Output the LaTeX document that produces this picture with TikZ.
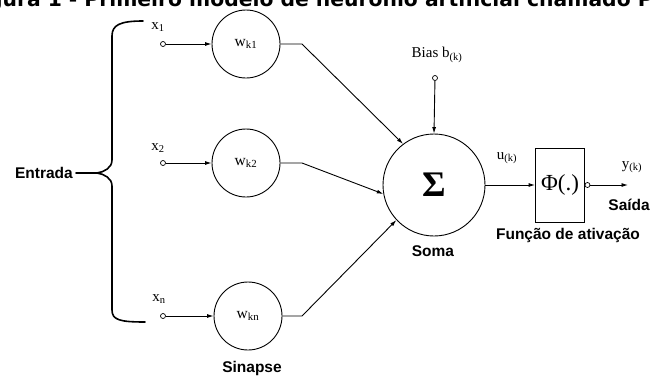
\documentclass[tikz,border=0pt]{standalone}
\usepackage{fontspec}
\setmainfont{Liberation Serif}
\newfontfamily\labelsans{Liberation Sans}
\newfontfamily\titlesans{DejaVu Sans}
\usetikzlibrary{arrows.meta}
\begin{document}
\begin{tikzpicture}[x=1pt,y=-1pt,
  lbl/.style={font=\labelsans\bfseries\fontsize{15.5}{18}\selectfont, inner sep=0pt},
  sym/.style={font=\fontsize{15}{17}\selectfont, inner sep=0pt},
  weight/.style={circle, draw, line width=0.9pt, minimum size=68pt, inner sep=0pt,
                 font=\fontsize{15.5}{17}\selectfont},
  port/.style={circle, draw, line width=0.7pt, minimum size=5pt, inner sep=0pt, fill=white},
  wire/.style={line width=0.9pt},
  arr/.style={wire, -{Latex[length=6.5pt,width=4pt]}},
  brace/.style={line width=1.6pt, line cap=round},
]
\useasboundingbox (0,0) rectangle (651,376);

% caption strip, cut by the page edge
\begin{scope}
  \clip (0,0) rectangle (651,376);
  \node[anchor=base west, inner sep=0pt, font=\titlesans\bfseries\fontsize{20.3}{23}\selectfont]
    (title) at (-33,6) {Figura 1 - Primeiro modelo de neurônio artificial chamado Perceptron};
\end{scope}

% inputs
\node[port] (x1) at (163,44) {};
\node[port] (x2) at (163,163) {};
\node[port] (xn) at (163,316) {};
\node[sym] (x1lbl) at (158,27) {x\textsubscript{1}};
\node[sym] (x2lbl) at (158,148) {x\textsubscript{2}};
\node[sym] (xnlbl) at (159,299) {x\textsubscript{n}};

% synaptic weights
\node[weight] (w1) at (246,44) {w\textsubscript{k1}};
\node[weight] (w2) at (246,163) {w\textsubscript{k2}};
\node[weight] (wn) at (248,316) {w\textsubscript{kn}};
\node[lbl] (sinapse) at (252,368) {Sinapse};

\draw[arr] (x1) -- (w1);
\draw[arr] (x2) -- (w2);
\draw[arr] (xn) -- (wn);

% summing junction
\node[circle, draw, line width=0.9pt, minimum size=102pt, inner sep=0pt,
      font=\bfseries\fontsize{36}{38}\selectfont] (sum) at (434,185) {Σ};
\node[lbl] (soma) at (433,251) {Soma};

\coordinate (b1) at (302,44);
\coordinate (b2) at (302,163);
\coordinate (bn) at (302,316);
\draw[arr] (w1) -- (b1) -- (sum.127);
\draw[arr] (w2) -- (b2) -- (sum.190);
\draw[arr] (wn) -- (bn) -- (sum.223);

% bias
\node[port] (bias) at (435,78) {};
\node[sym] (biaslbl) at (437,55) {Bias b\textsubscript{(k)}};
\draw[arr] (bias) -- (sum.north);

% activation function
\node[draw, line width=0.9pt, minimum width=49pt, minimum height=74pt, inner sep=0pt,
      font=\fontsize{23}{26}\selectfont] (phi) at (560,185) {Φ(.)};
\node[sym] (ulbl) at (507,158) {u\textsubscript{(k)}};
\draw[arr] (sum.east) -- (phi.west);
\node[lbl] (ativ) at (568,235) {Função de ativação};

% output
\node[port] (out) at ([xshift=2.5pt]phi.east) {};
\coordinate (yend) at (628,185);
\draw[arr] (out) -- (yend);
\node[sym] (ylbl) at (632,167) {y\textsubscript{(k)}};
\node[lbl, anchor=east] (saida) at (650,205) {Saída};

% input grouping brace
\node[lbl, anchor=east] (entrada) at (73,173) {Entrada};
\coordinate (cusp) at (97,173);
\draw[brace] (143,21) .. controls (120,21) and (112,25) .. (112,36)
  -- (112,160) .. controls (112,168) and (104,172) .. (cusp)
  .. controls (104,174) and (112,178) .. (112,186)
  -- (112,310) .. controls (112,320) and (120,322) .. (145,322);
\draw[brace] ([xshift=3pt]entrada.east) -- (cusp);
\end{tikzpicture}
\end{document}
